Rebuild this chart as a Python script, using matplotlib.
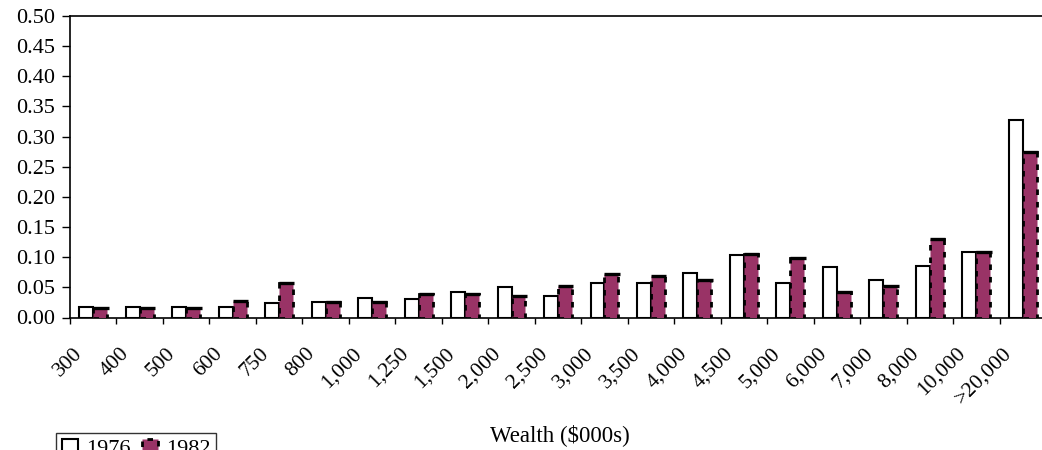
import matplotlib
matplotlib.use("Agg")
import matplotlib.pyplot as plt
import matplotlib.transforms as mtransforms
import numpy as np

# Wealth brackets ($000s) and share of top wealth-holders in each bracket
categories = ["300", "400", "500", "600", "750", "800", "1,000", "1,250", "1,500",
              "2,000", "2,500", "3,000", "3,500", "4,000", "4,500", "5,000",
              "6,000", "7,000", "8,000", "10,000", ">20,000"]
share_1976 = [0.017, 0.017, 0.017, 0.017, 0.024, 0.026, 0.033, 0.030, 0.043,
              0.050, 0.036, 0.057, 0.057, 0.073, 0.103, 0.057,
              0.084, 0.063, 0.086, 0.109, 0.328]
share_1982 = [0.015, 0.015, 0.015, 0.028, 0.058, 0.025, 0.025, 0.039, 0.039,
              0.035, 0.052, 0.072, 0.068, 0.062, 0.105, 0.098,
              0.042, 0.052, 0.131, 0.108, 0.274]
series_labels = ["1976", "1982"]
y_ticks = [0.00, 0.05, 0.10, 0.15, 0.20, 0.25, 0.30, 0.35, 0.40, 0.45, 0.50]

plt.rcParams["font.family"] = ["Liberation Serif", "DejaVu Serif"]

W, H = 1042, 450
fig = plt.figure(figsize=(W / 100, H / 100), dpi=100)
ax = fig.add_axes([70 / W, 1 - 317.5 / H, 976 / W, (317.5 - 16) / H])

x = np.arange(len(categories))
bw = 0.30
purple = "#993366"

ax.bar(x - bw / 2, share_1976, width=bw, facecolor="white", edgecolor="black",
       linewidth=1.5, label=series_labels[0], zorder=2)
ax.bar(x + bw / 2, share_1982, width=bw, facecolor=purple, edgecolor="black",
       linewidth=2.0, linestyle=(0, (2, 2.5)), label=series_labels[1], zorder=3)
# solid cap on top of each 1982 bar
ax.hlines(share_1982, x, x + bw + 0.03, colors="black", linewidth=2.4, zorder=4)

ax.set_xlim(-0.5, len(categories) - 0.5)
ax.set_ylim(0, 0.5)
ax.set_yticks(y_ticks)
ax.set_yticklabels([f"{v:.2f}" for v in y_ticks])

# ticks at category boundaries, labels at category centres
ax.set_xticks(np.arange(len(categories) + 1) - 0.5)
ax.set_xticklabels([])
ax.set_xticks(x, minor=True)
ax.set_xticklabels(categories, minor=True, rotation=45, ha="right", va="top",
                   rotation_mode="anchor", fontsize=15.5)
ax.tick_params(axis="x", which="major", direction="out", length=4.5, width=1)
ax.tick_params(axis="x", which="minor", length=0, pad=19)
ax.tick_params(axis="y", direction="out", length=5.5, width=1, labelsize=16, pad=5)

offset = mtransforms.ScaledTranslation(-20 / 100, 0, fig.dpi_scale_trans)
for lbl in ax.get_xticklabels(minor=True):
    lbl.set_transform(lbl.get_transform() + offset)

for side in ["left", "bottom", "top"]:
    ax.spines[side].set_linewidth(1.2)
ax.spines["right"].set_visible(False)

fig.text(560 / W, 1 - 435 / H, "Wealth ($000s)", ha="center", va="center", fontsize=16.5)

leg = fig.legend(loc="upper left", bbox_to_anchor=(56 / W, 1 - 433 / H), ncol=2,
                 fontsize=16, frameon=True, fancybox=False, edgecolor="black",
                 borderpad=0.25, handlelength=0.75, handleheight=0.75,
                 handletextpad=0.35, columnspacing=0.5, borderaxespad=0)
leg.get_frame().set_linewidth(1.0)

fig.savefig("out.png", dpi=100)
